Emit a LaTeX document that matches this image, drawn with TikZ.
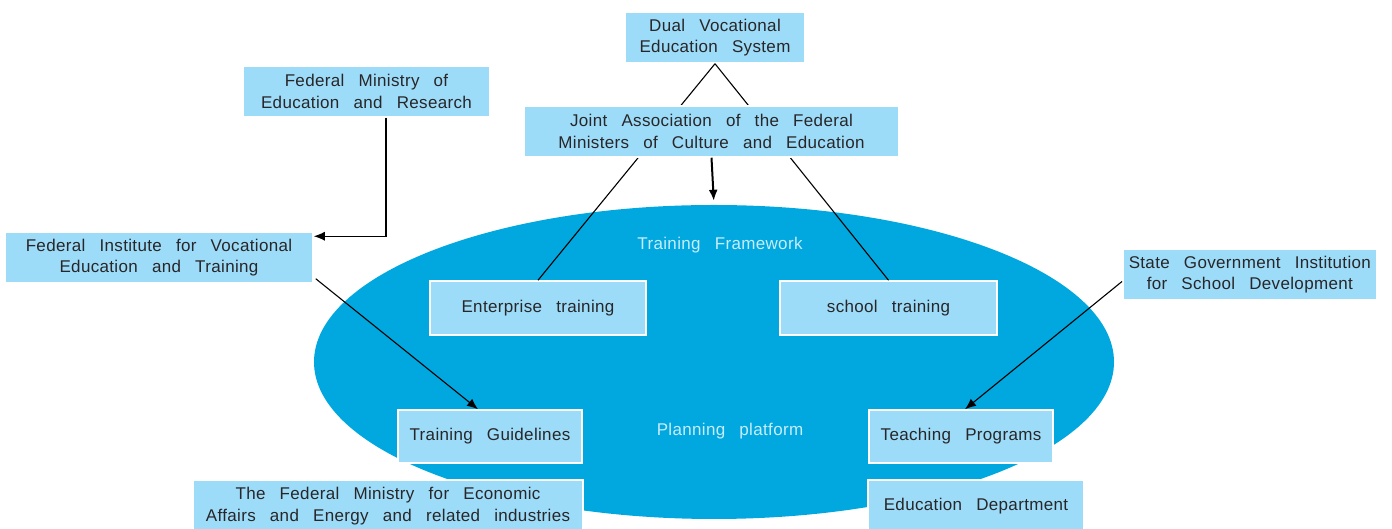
\documentclass[tikz,border=0pt]{standalone}
\usepackage{fontspec}
\setmainfont{Liberation Sans}[WordSpace=2.8, LetterSpace=2]
\usetikzlibrary{shapes.geometric, arrows.meta, positioning}
\definecolor{platform}{RGB}{0,168,223}
\definecolor{boxblue}{RGB}{157,220,249}
\definecolor{inktext}{RGB}{40,38,40}
\definecolor{paletext}{RGB}{200,236,250}
\tikzstyle{unit} = [rectangle, draw=white, line width=1.5pt, fill=boxblue, text=inktext, align=center, minimum height=51pt, inner sep=0pt, font=\fontsize{17}{21.5}\selectfont]
\tikzstyle{label} = [text=paletext, font=\fontsize{17}{21.5}\selectfont]
\tikzstyle{connector} = [draw, line width=1.1pt, -{Latex[length=11pt, width=9pt]}]
\tikzstyle{link} = [draw, line width=1.1pt]

\begin{document}
\begin{tikzpicture}[x=1pt, y=1pt]
    \useasboundingbox (0,0) rectangle (1392,529);
    % Platform
    \node [ellipse, fill=platform, minimum width=800pt, minimum height=314pt, inner sep=0pt] (frame) at (714,167) {};
    \node [label] (fw) at (720,284) {Training Framework};
    \node [label] (pp) at (730,98) {Planning platform};

    % Nodes
    \node [unit, minimum width=180pt] (dual) at (715,491.5) {Dual Vocational\\Education System};
    \node [unit, minimum width=216pt, minimum height=54pt] (enterprise) at (538,221) {Enterprise training};
    \node [unit, minimum width=217pt, minimum height=54pt] (school) at (888.5,221) {school training};
    \path [link] (dual.south) -- (enterprise.north);
    \path [link] (dual.south) -- (school.north);
    \node [unit, minimum width=375pt] (joint) at (711.5,397.5) {Joint Association of the Federal\\Ministers of Culture and Education};
    \node [unit, minimum width=247pt] (ministry) at (366.5,437.5) {Federal Ministry of\\Education and Research};
    \node [unit, minimum width=308pt] (institute) at (159,271.5) {Federal Institute for Vocational\\Education and Training};
    \node [unit, minimum width=184pt, minimum height=53pt] (guide) at (490,92.5) {Training Guidelines};
    \node [unit, minimum width=184pt, minimum height=53pt] (teach) at (961,92.5) {Teaching Programs};
    \node [unit, anchor=west, inner xsep=6pt] (state) at (1122,254.5) {State Government Institution\\for School Development};
    \node [unit, minimum width=390pt, minimum height=52pt] (econ) at (388,23) {The Federal Ministry for Economic\\Affairs and Energy and related industries};
    \node [unit, minimum width=216pt, minimum height=52pt] (dept) at (976,23) {Education Department};

    % Arrows
    \path [connector, line width=2pt, shorten >=4pt] (joint.south) -- (frame.north);
    \path [connector] ([xshift=19.5pt]ministry.south) |- ([yshift=-5pt]institute.north east);
    \path [connector] ([xshift=2pt, yshift=5pt]institute.south east) -- ([xshift=-12pt]guide.north);
    \path [connector] ([yshift=-7pt]state.west) -- ([xshift=4pt]teach.north);
\end{tikzpicture}
\end{document}
